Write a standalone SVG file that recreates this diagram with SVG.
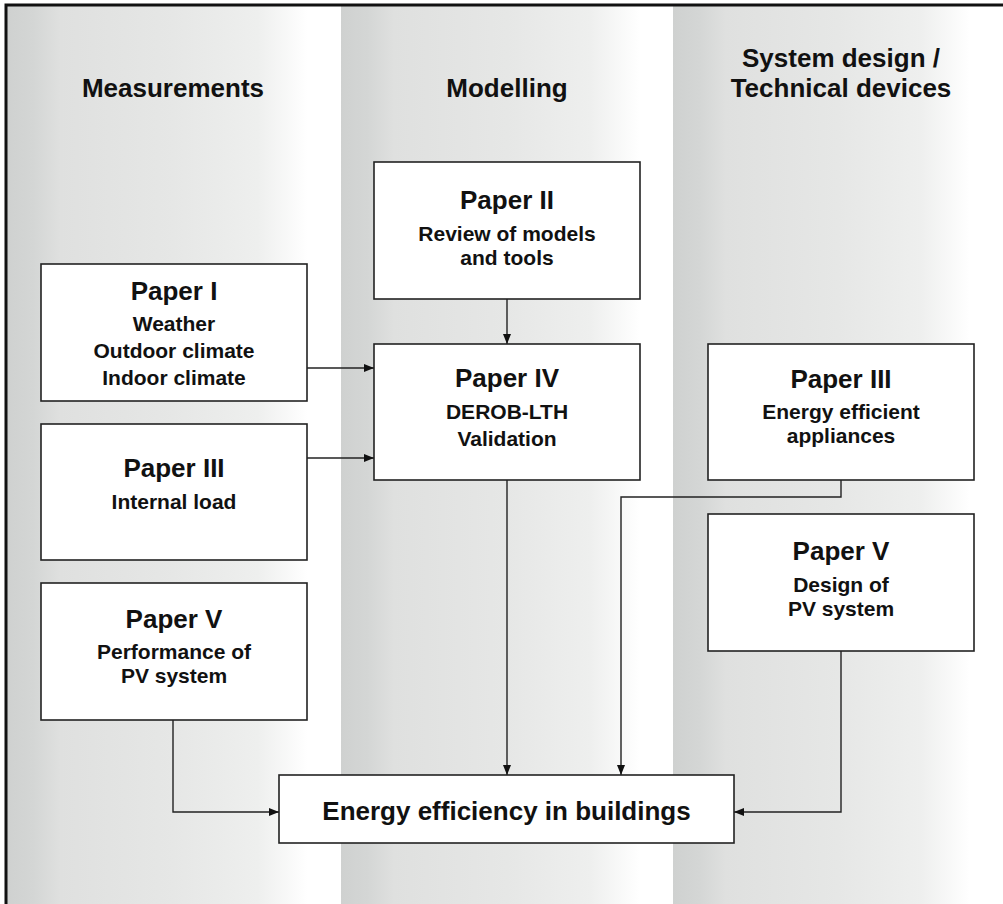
<svg xmlns="http://www.w3.org/2000/svg" width="1003" height="904" viewBox="0 0 1003 904">
  <defs>
    <linearGradient id="colGrad" x1="0" y1="0" x2="1" y2="0">
      <stop offset="0" stop-color="#cfd1d0"/>
      <stop offset="0.08" stop-color="#d4d6d5"/>
      <stop offset="0.16" stop-color="#dfe0df"/>
      <stop offset="0.5" stop-color="#e6e7e6"/>
      <stop offset="0.75" stop-color="#eeefee"/>
      <stop offset="0.9" stop-color="#ffffff"/>
      <stop offset="1" stop-color="#ffffff"/>
    </linearGradient>
    <marker id="arrow" markerUnits="userSpaceOnUse" markerWidth="11" markerHeight="9" refX="10" refY="4" orient="auto">
      <path d="M0,0 L10,4 L0,8 z" fill="#111"/>
    </marker>
  </defs>
  <style>
    .box { fill: #ffffff; stroke: #222; stroke-width: 1.6; }
    .hdr { font-family: "Liberation Sans", Arial, sans-serif; font-weight: bold; font-size: 26px; fill: #111; text-anchor: middle; }
    .ttl { font-family: "Liberation Sans", Arial, sans-serif; font-weight: bold; font-size: 26px; fill: #111; text-anchor: middle; }
    .sub { font-family: "Liberation Sans", Arial, sans-serif; font-weight: bold; font-size: 21px; fill: #111; text-anchor: middle; }
    .con { fill: none; stroke: #222; stroke-width: 1.4; }
  </style>

  <rect x="0" y="0" width="1003" height="904" fill="#ffffff"/>
  <g id="columns">
    <rect x="7" y="6" width="334" height="898" fill="url(#colGrad)"/>
    <rect x="341" y="6" width="332" height="898" fill="url(#colGrad)"/>
    <rect x="673" y="6" width="330" height="898" fill="url(#colGrad)"/>
  </g>
  <g id="frame" stroke="#111" stroke-width="3" fill="none">
    <path d="M6,904 V5 H1003"/>
  </g>

  <g id="headers">
    <text class="hdr" x="173" y="97">Measurements</text>
    <text class="hdr" x="507" y="97">Modelling</text>
    <text class="hdr" x="841" y="67">System design /</text>
    <text class="hdr" x="841" y="97">Technical devices</text>
  </g>

  <g id="connectors">
    <path class="con" d="M507,299 V344" marker-end="url(#arrow)"/>
    <path class="con" d="M307,368 H374" marker-end="url(#arrow)"/>
    <path class="con" d="M307,458 H374" marker-end="url(#arrow)"/>
    <path class="con" d="M507,480 V775" marker-end="url(#arrow)"/>
    <path class="con" d="M841,480 V497 H621 V775" marker-end="url(#arrow)"/>
    <path class="con" d="M173,720 V812 H279" marker-end="url(#arrow)"/>
    <path class="con" d="M841,651 V812 H734" marker-end="url(#arrow)"/>
  </g>

  <g id="paper2">
    <rect class="box" x="374" y="162" width="266" height="137"/>
    <text class="ttl" x="507" y="209">Paper II</text>
    <text class="sub" x="507" y="241">Review of models</text>
    <text class="sub" x="507" y="265">and tools</text>
  </g>
  <g id="paper1">
    <rect class="box" x="41" y="264" width="266" height="137"/>
    <text class="ttl" x="174" y="300">Paper I</text>
    <text class="sub" x="174" y="331">Weather</text>
    <text class="sub" x="174" y="358">Outdoor climate</text>
    <text class="sub" x="174" y="385">Indoor climate</text>
  </g>
  <g id="paper3-left">
    <rect class="box" x="41" y="424" width="266" height="136"/>
    <text class="ttl" x="174" y="477">Paper III</text>
    <text class="sub" x="174" y="509">Internal load</text>
  </g>
  <g id="paper5-left">
    <rect class="box" x="41" y="583" width="266" height="137"/>
    <text class="ttl" x="174" y="628">Paper V</text>
    <text class="sub" x="174" y="659">Performance of</text>
    <text class="sub" x="174" y="683">PV system</text>
  </g>
  <g id="paper4">
    <rect class="box" x="374" y="344" width="266" height="136"/>
    <text class="ttl" x="507" y="387">Paper IV</text>
    <text class="sub" x="507" y="419">DEROB-LTH</text>
    <text class="sub" x="507" y="446">Validation</text>
  </g>
  <g id="paper3-right">
    <rect class="box" x="708" y="344" width="266" height="136"/>
    <text class="ttl" x="841" y="388">Paper III</text>
    <text class="sub" x="841" y="419">Energy efficient</text>
    <text class="sub" x="841" y="443">appliances</text>
  </g>
  <g id="paper5-right">
    <rect class="box" x="708" y="514" width="266" height="137"/>
    <text class="ttl" x="841" y="560">Paper V</text>
    <text class="sub" x="841" y="592">Design of</text>
    <text class="sub" x="841" y="616">PV system</text>
  </g>
  <g id="energy">
    <rect class="box" x="279" y="775" width="455" height="68"/>
    <text class="ttl" x="506.5" y="820">Energy efficiency in buildings</text>
  </g>
</svg>
